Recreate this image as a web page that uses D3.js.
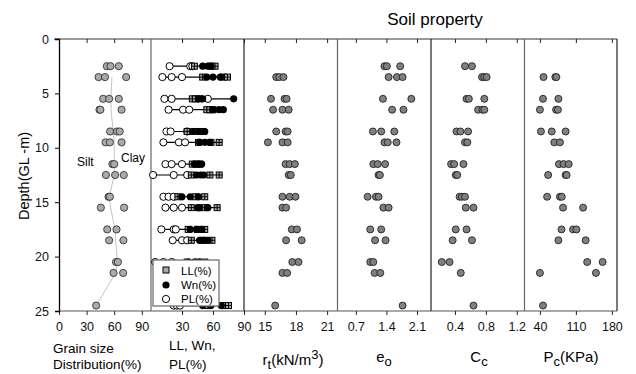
<!DOCTYPE html>
<html>
<head>
<meta charset="utf-8">
<script src="https://cdn.jsdelivr.net/npm/d3@7"></script>
<style>
  body { margin: 0; background: #fff; }
  svg text { font-family: "Liberation Sans", Arial, sans-serif; }
</style>
</head>
<body>
<div id="chart"></div>
<script>
// depth of each sample row (m)
const depth = [2.5, 3.5, 5.5, 6.5, 8.5, 9.5, 11.5, 12.5, 14.5, 15.5, 17.5, 18.5, 20.5, 21.5, 24.5];

// grain size distribution (%)
const grainSize = [[52, 56, 65], [43, 50, 73], [48, 54.5, 65], [44, 45, 68], [55.6, 63, 66], [50.6, 55.3, 68],
  [58, 60], [51, 61, 70.4], [53.8, 55.3], [45.5, 70.8], [52.4, 62.5], [54.5, 70], [62, 64], [59.3, 69.7], [40.4]];
// silt / clay boundary line
const grainLine = [null, 57.5, 56.5, 56.5, 59, 60, 60, 60, 54.7, 56, 61, 61.6, 63.4, 61.6, 40.5];

// Atterberg limits (%)
const LL = [[42, 58, 62], [50, 70, 74], [40, 43, 47], [54, 57, 60], [35, 44, 50], [46, 58, 66], [40, 44, 47],
  [39, 57, 66], [26, 43, 52], [39, 52, 64], [36, 45, 52], [39, 50, 59], [35, 45, 52], [42, 48, 55], [55, 70, 75]];
const Wn = [[50, 55, 58], [54, 60, 67], [46, 50, 80], [60, 66, 70], [40, 46, 52], [47, 52, 57], [42, 46, 49],
  [44, 48, 51], [30, 38, 46], [45, 47, 55], [38, 44, 49], [47, 51, 55], [36, 42, 47], [40, 45, 50], [50, 58, 68]];
const PL = [[18, 38, 40], [11, 20, 30], [13, 20, 55], [17, 31, 37], [15, 19, 35], [12, 27, 33], [14, 20, 30],
  [2, 22, 35], [12, 17, 22], [14, 22, 30], [10, 22, 24], [21, 30, 35], [4, 12, 20], [10, 18, 24], [22, 25, 28]];

// unit weight (kN/m3)
const rt = [[], [16.1, 16.4, 16.8], [15.6, 16.9, 17.1], [15.8, 16.7, 17.3], [16.1, 17.0, 17.2], [15.3, 16.7, 17.2],
  [17.0, 17.4, 17.9], [17.3, 17.5], [16.7, 17.4, 17.95], [16.7, 17.05], [17.6, 18.1], [17.05, 18.55],
  [17.65, 18.25], [16.7, 17.15], [16.0]];

// initial void ratio
const e0 = [[1.355, 1.41, 1.715], [1.45, 1.64, 1.77], [1.32, 1.97], [1.53, 1.79], [1.09, 1.28, 1.58],
  [1.355, 1.43, 1.63], [1.10, 1.20, 1.37], [1.22, 1.25], [0.97, 1.16, 1.22], [1.33, 1.45], [1.03, 1.28],
  [1.14, 1.38], [1.03, 1.10], [1.13, 1.26], [1.77]];

// compression index
const cc = [[0.53, 0.62], [0.75, 0.78, 0.81], [0.55, 0.58, 0.78], [0.70, 0.755, 0.78], [0.42, 0.47, 0.57],
  [0.53, 0.56], [0.35, 0.39, 0.51], [0.41, 0.43], [0.46, 0.49, 0.53], [0.54, 0.64], [0.41, 0.55],
  [0.37, 0.62], [0.23, 0.33], [0.475], [0.64]];

// preconsolidation pressure (kPa)
const pc = [[], [47, 70, 72], [46, 76], [40, 71.5, 75], [42, 63, 90], [68, 79], [77, 86, 96], [56, 90, 92],
  [54, 79, 82.5], [85, 124], [82, 104.5, 111], [76, 129], [132, 162], [40, 149], [46]];

const depthTicks = [0, 5, 10, 15, 20, 25];

const W = 636, H = 374;
const yTop = 39, yBot = 311;

const svg = d3.select("#chart").append("svg")
    .attr("width", W)
    .attr("height", H);

const y = d3.scaleLinear().domain([0, 25]).range([yTop, yBot]);

// panels side by side
const panels = [
    { domain: [0, 100], range: [59, 151], ticks: [0, 30, 60, 90] },
    { domain: [0, 90], range: [151, 244], ticks: [30, 60, 90] },
    { domain: [13, 22], range: [244, 337.5], ticks: [15, 18, 21] },
    { domain: [0.28, 2.42], range: [337.5, 431], ticks: [0.7, 1.4, 2.1] },
    { domain: [0.09, 1.3], range: [431, 524.5], ticks: [0.4, 0.8, 1.2] },
    { domain: [10, 190], range: [524.5, 617], ticks: [40, 110, 180] }
];
panels.forEach(p => p.x = d3.scaleLinear().domain(p.domain).range(p.range));

// frame lines
svg.append("line").attr("x1", 54).attr("x2", 617).attr("y1", yTop).attr("y2", yTop)
    .attr("stroke", "#777").attr("stroke-width", 1.3);
svg.append("line").attr("x1", 59).attr("x2", 617).attr("y1", yBot).attr("y2", yBot)
    .attr("stroke", "#555").attr("stroke-width", 1.2);
panels.forEach((p, i) => {
    svg.append("line")
        .attr("x1", p.range[1]).attr("x2", p.range[1])
        .attr("y1", yTop).attr("y2", yBot)
        .attr("stroke", i % 2 ? "#222" : "#666").attr("stroke-width", 1.2);
});

// axes for each panel
panels.forEach(p => {
    const gb = svg.append("g")
        .attr("transform", `translate(0,${yBot})`)
        .call(d3.axisBottom(p.x).tickValues(p.ticks).tickFormat(d => d).tickSize(4).tickPadding(7));
    gb.select(".domain").remove();
    gb.selectAll("text").attr("font-size", 12.5).attr("fill", "#111");
    gb.selectAll("line").attr("stroke", "#222");

    const gt = svg.append("g")
        .attr("transform", `translate(0,${yTop})`)
        .call(d3.axisTop(p.x).tickValues(p.ticks).tickFormat("").tickSize(-4));
    gt.select(".domain").remove();
    gt.selectAll("line").attr("stroke", "#222");
});

// depth axis
const gy = svg.append("g")
    .attr("transform", "translate(59,0)")
    .call(d3.axisLeft(y).tickValues(depthTicks).tickSize(4).tickPadding(6));
gy.select(".domain").attr("stroke", "#000").attr("stroke-width", 1.3);
gy.selectAll("text").attr("font-size", 12.5).attr("fill", "#111");

svg.append("text")
    .attr("transform", "translate(29,176) rotate(-90)")
    .attr("text-anchor", "middle")
    .attr("font-size", 14.5)
    .text("Depth(GL -m)");

// flatten rows into points
function points(rows) {
    const out = [];
    rows.forEach((vals, i) => vals.forEach(v => out.push({ d: depth[i], v })));
    return out;
}

// panel 1: grain size
const p1 = panels[0];
const lineData = grainLine.map((v, i) => ({ d: depth[i], v })).filter(o => o.v != null);
svg.append("path")
    .datum(lineData)
    .attr("fill", "none")
    .attr("stroke", "#c4c4c4")
    .attr("stroke-width", 1)
    .attr("d", d3.line().x(o => p1.x(o.v)).y(o => y(o.d)));

svg.append("g").selectAll("circle")
    .data(points(grainSize))
    .join("circle")
    .attr("cx", o => p1.x(o.v))
    .attr("cy", o => y(o.d))
    .attr("r", 3.6)
    .attr("fill", "#aaa")
    .attr("stroke", "#333")
    .attr("stroke-width", 0.9);

svg.append("text").attr("x", 77).attr("y", 166).attr("font-size", 12).text("Silt");
svg.append("text").attr("x", 121).attr("y", 162).attr("font-size", 12).text("Clay");

// panel 2: LL, Wn, PL
const p2 = panels[1];
const g2 = svg.append("g");
depth.forEach((d, i) => {
    const all = LL[i].concat(Wn[i], PL[i]);
    g2.append("line")
        .attr("x1", p2.x(d3.min(all))).attr("x2", p2.x(d3.max(all)))
        .attr("y1", y(d)).attr("y2", y(d))
        .attr("stroke", "#000").attr("stroke-width", 1.2);
});
g2.selectAll(".pl")
    .data(points(PL))
    .join("circle")
    .attr("cx", o => p2.x(o.v))
    .attr("cy", o => y(o.d))
    .attr("r", 3.6)
    .attr("fill", "#fff")
    .attr("stroke", "#000");
g2.selectAll(".ll")
    .data(points(LL))
    .join("g")
    .attr("transform", o => `translate(${p2.x(o.v)},${y(o.d)})`)
    .each(function() {
        const s = d3.select(this);
        s.append("rect").attr("x", -3).attr("y", -3).attr("width", 6).attr("height", 6)
            .attr("fill", "#aaa").attr("stroke", "#000");
        s.append("line").attr("y1", -3).attr("y2", 3).attr("stroke", "#000");
        s.append("line").attr("x1", -3).attr("x2", 3).attr("stroke", "#000");
    });
g2.selectAll(".wn")
    .data(points(Wn))
    .join("circle")
    .attr("cx", o => p2.x(o.v))
    .attr("cy", o => y(o.d))
    .attr("r", 3.6)
    .attr("fill", "#000");

// legend
const lg = svg.append("g").attr("transform", "translate(153,260)");
lg.append("rect").attr("width", 66).attr("height", 46)
    .attr("fill", "#fff").attr("stroke", "#666").attr("stroke-width", 1.2);
lg.append("rect").attr("x", 10).attr("y", 7).attr("width", 6).attr("height", 6)
    .attr("fill", "#aaa").attr("stroke", "#000");
lg.append("circle").attr("cx", 13).attr("cy", 25).attr("r", 3.6).attr("fill", "#000");
lg.append("circle").attr("cx", 13).attr("cy", 39).attr("r", 3.6).attr("fill", "#fff").attr("stroke", "#000");
[["LL(%)", 14.5], ["Wn(%)", 29], ["PL(%)", 43]].forEach(([t, ty]) => {
    lg.append("text").attr("x", 28).attr("y", ty).attr("font-size", 11.5).text(t);
});

// remaining panels: scatter
[[rt, 2], [e0, 3], [cc, 4], [pc, 5]].forEach(([rows, k]) => {
    const p = panels[k];
    svg.append("g").selectAll("circle")
        .data(points(rows))
        .join("circle")
        .attr("cx", o => p.x(o.v))
        .attr("cy", o => y(o.d))
        .attr("r", 3.5)
        .attr("fill", "#808080")
        .attr("stroke", "#222")
        .attr("stroke-width", 0.9);
});

// axis titles
const tfs = 13.5;
svg.append("text").attr("x", 53).attr("y", 353).attr("font-size", tfs).text("Grain size");
svg.append("text").attr("x", 53).attr("y", 369).attr("font-size", tfs).text("Distribution(%)");
svg.append("text").attr("x", 169).attr("y", 350).attr("font-size", tfs).text("LL, Wn,");
svg.append("text").attr("x", 169).attr("y", 369).attr("font-size", tfs).text("PL(%)");

function subTitle(x, yy, parts) {
    const t = svg.append("text").attr("x", x).attr("y", yy).attr("font-size", 15).attr("text-anchor", "middle");
    parts.forEach(([s, kind]) => {
        const ts = t.append("tspan").text(s);
        if (kind === "sub") ts.attr("baseline-shift", "-30%").attr("font-size", 13);
        if (kind === "sup") ts.attr("baseline-shift", "45%").attr("font-size", 13);
    });
}
subTitle(293, 365, [["r"], ["t", "sub"], ["(kN/m"], ["3", "sup"], [")"]]);
subTitle(384, 362, [["e"], ["o", "sub"]]);
subTitle(479, 362, [["C"], ["c", "sub"]]);
subTitle(571, 362, [["P"], ["c", "sub"], ["(KPa)"]]);

// title
svg.append("text")
    .attr("x", 435).attr("y", 25)
    .attr("text-anchor", "middle")
    .attr("font-size", 17)
    .text("Soil property");
</script>
</body>
</html>
